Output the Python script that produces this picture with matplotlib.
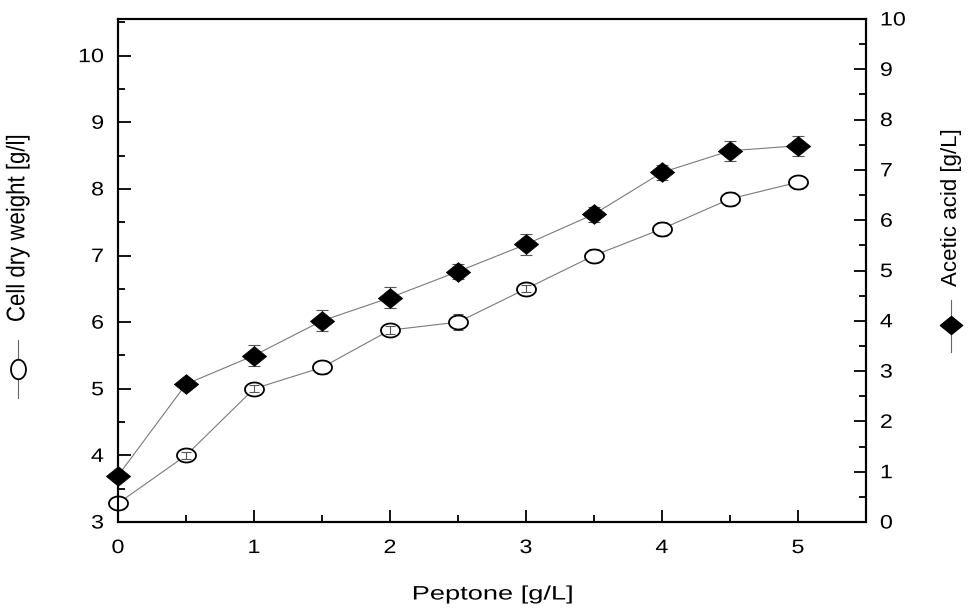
import matplotlib
matplotlib.use("Agg")
import matplotlib.pyplot as plt
import numpy as np
from matplotlib.path import Path
from matplotlib.lines import Line2D
from matplotlib.ticker import MultipleLocator
from matplotlib.patheffects import AbstractPathEffect
from matplotlib.transforms import Affine2D

plt.rcParams['font.family'] = ['Liberation Sans', 'DejaVu Sans']

peptone = [0, 0.5, 1, 1.5, 2, 2.5, 3, 3.5, 4, 4.5, 5]
cell_dry_weight = [3.28, 4.0, 5.0, 5.32, 5.88, 6.0, 6.5, 7.0, 7.4, 7.85, 8.1]
cell_err = [0.08, 0.05, 0.05, 0.1, 0.06, 0.12, 0.05, 0.1, 0.1, 0.1, 0.1]
acetic_acid = [0.92, 2.74, 3.31, 4.0, 4.46, 4.98, 5.52, 6.12, 6.95, 7.38, 7.48]
acetic_err = [0.1, 0.1, 0.2, 0.21, 0.21, 0.15, 0.21, 0.15, 0.15, 0.2, 0.2]


class HStretch(AbstractPathEffect):
    """Stretch a text horizontally (in display space) around its anchor."""
    def __init__(self, text, sx):
        super().__init__()
        self.text = text
        self.sx = sx

    def draw_path(self, renderer, gc, tpath, affine, rgbFace=None):
        cx, _ = self.text.get_transform().transform(self.text.get_position())
        a = affine + Affine2D().translate(-cx, 0).scale(self.sx, 1).translate(cx, 0)
        renderer.draw_path(gc, tpath, a, rgbFace)


t = np.linspace(0, 2 * np.pi, 72)
ellipse_h = Path(np.column_stack([1.36 * np.cos(t), np.sin(t)]), closed=True)
ellipse_v = Path(np.column_stack([np.sin(t), 1.3 * np.cos(t)]), closed=True)
diamond = Path([(1.23, 0), (0, 1), (-1.23, 0), (0, -1), (1.23, 0)], closed=True)

fig = plt.figure(figsize=(9.69, 6.1), dpi=100)
ax = fig.add_axes([118 / 969, 1 - 522 / 610, (866 - 118) / 969, (522 - 19) / 610])
ax2 = ax.twinx()

x_arr = np.array(peptone)
c_arr = np.array(cell_dry_weight)
ce_arr = np.array(cell_err)
small = ce_arr < 0.07

ax.plot(peptone, cell_dry_weight, color='#7a7a7a', lw=0.8,
        marker=ellipse_h, markersize=13.7, mfc='white', mec='black', mew=1.3,
        zorder=3, clip_on=False)
# error bars hidden behind the markers where they exceed them
ax.errorbar(x_arr[~small], c_arr[~small], yerr=ce_arr[~small], fmt='none',
            ecolor='#555555', elinewidth=0.8, capsize=3.5, capthick=0.8,
            zorder=2, clip_on=False)
# small error bars visible inside the open markers
ax.errorbar(x_arr[small], c_arr[small], yerr=ce_arr[small], fmt='none',
            ecolor='#555555', elinewidth=0.8, capsize=3.5, capthick=0.8,
            zorder=4, clip_on=False)
ax2.errorbar(peptone, acetic_acid, yerr=acetic_err, fmt='none',
             ecolor='#555555', elinewidth=0.8, capsize=4.5, capthick=0.8,
             zorder=2, clip_on=False)
ax2.plot(peptone, acetic_acid, color='#7a7a7a', lw=0.8,
         marker=diamond, markersize=17.5, mfc='black', mec='black', mew=0.5,
         zorder=3, clip_on=False)

ax.set_xlim(0, 5.5)
ax.set_ylim(3, 10.55)
ax2.set_ylim(0, 10)

ax.xaxis.set_major_locator(MultipleLocator(1))
ax.xaxis.set_minor_locator(MultipleLocator(0.5))
ax.yaxis.set_major_locator(MultipleLocator(1))
ax.yaxis.set_minor_locator(MultipleLocator(0.5))
ax2.yaxis.set_major_locator(MultipleLocator(1))
ax2.yaxis.set_minor_locator(MultipleLocator(0.5))

for a in (ax, ax2):
    for s in a.spines.values():
        s.set_linewidth(1.5)
    a.tick_params(which='major', direction='in', length=9, width=1.3, labelsize=14)
    a.tick_params(which='minor', direction='in', length=5, width=1.3)
ax.tick_params(axis='y', pad=10)
ax.tick_params(axis='x', pad=13)
ax2.tick_params(axis='y', pad=10)

# x axis label
xl = fig.text(493 / 969, 1 - 595 / 610, 'Peptone [g/L]', ha='center', va='center',
              fontsize=14)

# left axis label with symbol
tl = fig.text(18 / 969, 1 - 228 / 610, 'Cell dry weight [g/l]', rotation=90,
              ha='center', va='center', fontsize=16)
fig.add_artist(Line2D([18 / 969, 18 / 969], [1 - 398 / 610, 1 - 340 / 610],
                      transform=fig.transFigure, color='#666666', lw=0.8))
fig.add_artist(Line2D([18 / 969], [1 - 369 / 610], transform=fig.transFigure,
                      marker=ellipse_v, markersize=14, mfc='white', mec='black',
                      mew=1.3, ls='none'))

# right axis label with symbol
tr = fig.text(951 / 969, 1 - 207 / 610, 'Acetic acid [g/L]', rotation=90,
              ha='center', va='center', fontsize=16)
fig.add_artist(Line2D([951 / 969, 951 / 969], [1 - 352 / 610, 1 - 300 / 610],
                      transform=fig.transFigure, color='#666666', lw=0.8))
fig.add_artist(Line2D([951 / 969], [1 - 325 / 610], transform=fig.transFigure,
                      marker=diamond, markersize=16, mfc='black', mec='black',
                      ls='none'))

fig.canvas.draw()
for lbl in ax.get_xticklabels() + ax.get_yticklabels() + ax2.get_yticklabels():
    lbl.set_path_effects([HStretch(lbl, 1.2)])
xl.set_path_effects([HStretch(xl, 1.4)])
tl.set_path_effects([HStretch(tl, 1.15)])

fig.savefig('out.png', dpi=100)
